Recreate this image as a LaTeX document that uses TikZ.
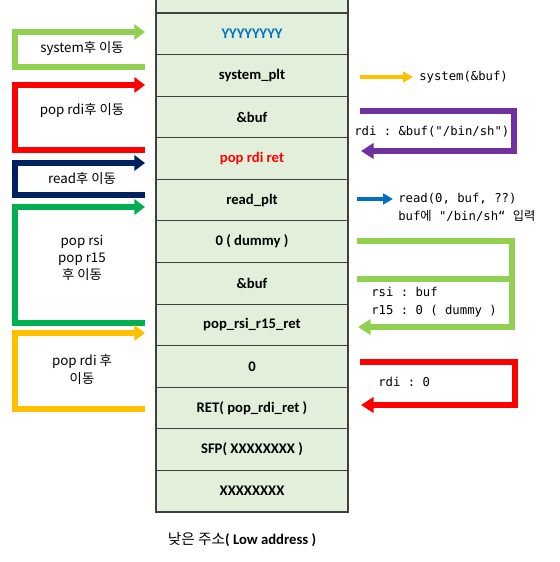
\documentclass[tikz,border=0pt]{standalone}
\usepackage{fontspec}
\setmainfont{Carlito}
\setmonofont{DejaVu Sans Mono}
\newfontfamily\krfont{Noto Sans CJK KR}
\usetikzlibrary{arrows.meta, positioning}
\definecolor{cellgreen}{RGB}{226,239,218}
\definecolor{lgreen}{RGB}{146,208,80}
\definecolor{mgreen}{RGB}{0,176,80}
\definecolor{navy}{RGB}{0,32,96}
\definecolor{amber}{RGB}{255,192,0}
\definecolor{violet}{RGB}{112,48,160}
\definecolor{xblue}{RGB}{0,112,192}
\tikzset{
  stk cell/.style={
    rectangle, draw=black!75, line width=0.8pt, fill=cellgreen,
    minimum width=144pt, minimum height=31.2pt,
    inner sep=0pt, outer sep=0pt,
    font=\bfseries\fontsize{11}{13}\selectfont
  },
  jmp arrow/.style={
    line width=4.9pt, -{Triangle[length=8pt, width=11.5pt]}
  },
  jmp label/.style={
    font=\krfont\fontsize{10}{12.5}\selectfont, align=center, inner sep=1pt
  },
  ret arrow/.style={
    line width=4.2pt, -{Triangle[length=9.5pt, width=11.5pt]}
  },
  hint arrow/.style={
    line width=3pt, -{Triangle[length=7.5pt, width=8pt]}
  },
  reg text/.style={
    font=\ttfamily\fontsize{9.2}{13.5}\selectfont, align=left,
    anchor=west, inner sep=0pt
  }
}

\begin{document}
\begin{tikzpicture}[x=0.75pt, y=-0.75pt]
\useasboundingbox (0,0) rectangle (560,562);

% ====== STACK ======
\node[stk cell] (top) at (252,-7.8) {};
\node[stk cell, text=xblue] (yy) at (252,33.8) {YYYYYYYY};
\node[stk cell] (sysplt) at (252,75.4) {system\_plt};
\node[stk cell] (buf1) at (252,117) {\&buf};
\node[stk cell, text=red] (poprdi1) at (252,158.5) {pop rdi ret};
\node[stk cell] (readplt) at (252,200.1) {read\_plt};
\node[stk cell] (dummy) at (252,241.7) {0 ( dummy )};
\node[stk cell] (buf2) at (252,283.3) {\&buf};
\node[stk cell] (poprsi) at (252,324.9) {pop\_rsi\_r15\_ret};
\node[stk cell] (zero) at (252,366.5) {0};
\node[stk cell] (ret) at (252,408.1) {RET( pop\_rdi\_ret )};
\node[stk cell] (sfp) at (252,449.6) {SFP( XXXXXXXX )};
\node[stk cell] (buf) at (252,491.2) {XXXXXXXX};

\node[font=\fontsize{11}{13}\selectfont] (low) at (242,540)
  {{\krfont 낮은 주소}\textbf{( Low address )}};

% ====== LEFT: jumps ======
\draw[jmp arrow, lgreen] (145,67) -- (15,67) -- (15,32) -- (145,32);
\node[jmp label] (j1) at (82,49) {system후 이동};

\draw[jmp arrow, red] (145,150) -- (15,150) -- (15,85) -- (145,85);
\node[jmp label] (j2) at (82,110) {pop rdi후 이동};

\draw[jmp arrow, navy] (145,195) -- (15,195) -- (15,163) -- (145,163);
\node[jmp label] (j3) at (82,178) {read후 이동};

\draw[jmp arrow, mgreen] (145,323) -- (15,323) -- (15,207) -- (145,207);
\node[jmp label] (j4) at (82,258) {pop rsi\\pop r15\\후 이동};

\draw[jmp arrow, amber] (145,409) -- (15,409) -- (15,333) -- (145,333);
\node[jmp label, font=\krfont\fontsize{10}{13.5}\selectfont] (j5) at (82,369) {pop rdi 후\\이동};

% ====== RIGHT: registers ======
\draw[hint arrow, amber] (360,77) -- (413,77);
\node[reg text] (r1) at (419,77) {system(\&buf)};

\draw[ret arrow, violet] (360,111) -- (514,111) -- (514,151) -- (361,151);
\node[reg text] (r2) at (354,132) {rdi : \&buf("/bin/sh")};

\draw[hint arrow, xblue] (357,199) -- (393,199);
\node[reg text] (r3) at (398,207.5)
  {read(0, buf, ??)\\buf{\krfont 에} "/bin/sh“ {\krfont 입력}};

\draw[ret arrow, lgreen] (357,241) -- (512,241) -- (512,327) -- (358,327);
\draw[lgreen, line width=4.2pt] (357,279) -- (512,279);
\node[reg text] (r4) at (371,302.5) {rsi : buf\\r15 : 0 ( dummy )};

\draw[ret arrow, red] (360,362) -- (515,362) -- (515,405) -- (361,405);
\node[reg text] (r5) at (378,382) {rdi : 0};

\end{tikzpicture}
\end{document}
